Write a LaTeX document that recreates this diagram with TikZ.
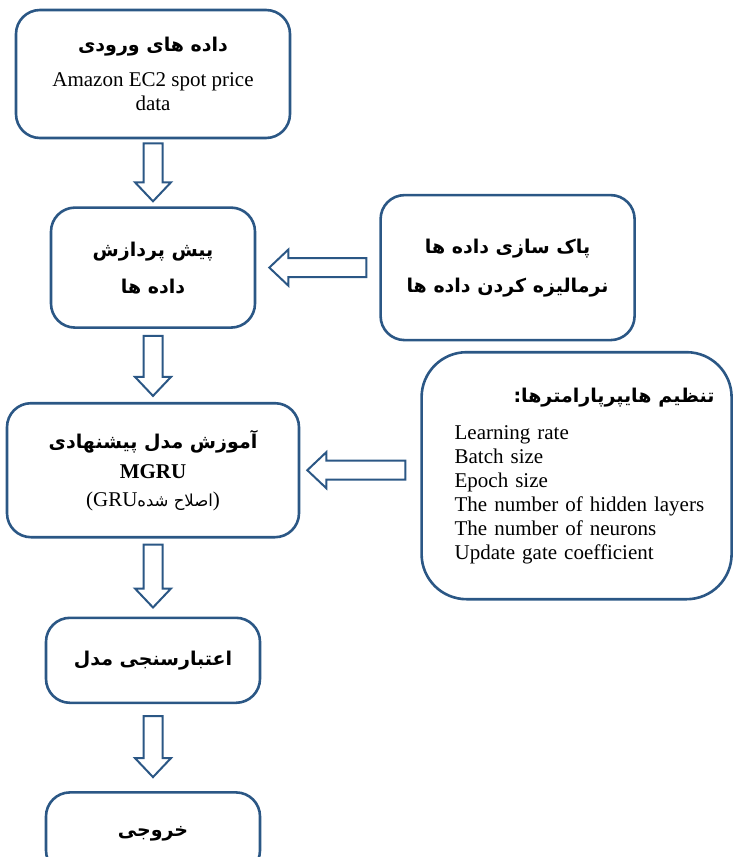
\documentclass[tikz,border=0pt]{standalone}
\usepackage{fontspec}
\setmainfont{Liberation Serif}
\newfontfamily\persfont[Script=Arabic]{DejaVu Sans}
\TeXXeTstate=1
\usetikzlibrary{positioning, calc}
\definecolor{boxblue}{RGB}{43,87,133}
\newcommand{\fabold}[1]{{\persfont\bfseries\fontsize{19}{24}\selectfont\beginR #1\endR}}
\newcommand{\faplain}[1]{{\persfont\fontsize{16.5}{24}\selectfont\beginR #1\endR}}

\begin{document}
\begin{tikzpicture}[
    x=1pt, y=-1pt,
    stage/.style={rectangle, rounded corners=24pt, draw=boxblue, line width=2.6pt, align=center, inner sep=0pt, font=\fontsize{21}{24}\selectfont},
    hollow/.style={draw=boxblue, line width=2pt, fill=white, line join=miter, to path={
        ($(\tikztostart)!9.5pt!-90:(\tikztotarget)$) --
        ($(\tikztotarget)!19pt!(\tikztostart)!9.5pt!90:(\tikztostart)$) --
        ($(\tikztotarget)!19pt!(\tikztostart)!18pt!90:(\tikztostart)$) --
        (\tikztotarget) --
        ($(\tikztotarget)!19pt!(\tikztostart)!18pt!-90:(\tikztostart)$) --
        ($(\tikztotarget)!19pt!(\tikztostart)!9.5pt!-90:(\tikztostart)$) --
        ($(\tikztostart)!9.5pt!90:(\tikztotarget)$) -- cycle}}
]
\useasboundingbox (0,0) rectangle (734,857);

% main column
\node[stage, minimum width=274pt, minimum height=128pt] (inp) at (153,74)
    {\fabold{داده های ورودی}\\[11pt] Amazon EC2 spot price\\ data};
\node[stage, minimum width=204pt, minimum height=120pt, below=67pt of inp] (pre)
    {\fabold{پیش پردازش}\\[13pt] \fabold{داده ها}};
\node[stage, minimum width=292pt, minimum height=134pt, below=73pt of pre] (train)
    {\fabold{آموزش مدل پیشنهادی}\\[6pt] \textbf{MGRU}\\[4pt] (GRU\faplain{اصلاح شده})};
\node[stage, minimum width=214pt, minimum height=85pt, below=78pt of train] (valid)
    {\fabold{اعتبارسنجی مدل}};
\node[stage, minimum width=214pt, minimum height=82pt, below=87pt of valid] (out)
    {\fabold{خروجی}};

% side boxes
\node[stage, minimum width=254pt, minimum height=145pt, right=123pt of pre] (clean)
    {\fabold{پاک سازی داده ها}\\[15pt] \fabold{نرمالیزه کردن داده ها}};
\node[stage, rounded corners=45pt, minimum width=310pt, minimum height=247pt, text width=256pt, align=left,
      right=120pt of train, yshift=-5.5pt] (hyper)
    {\mbox{}\hfill\fabold{تنظیم هایپرپارامترها:}\kern-10pt\mbox{}\\[13pt]
     \hspace*{6pt}Learning rate\\ \hspace*{6pt}Batch size\\ \hspace*{6pt}Epoch size\\
     \hspace*{6pt}The number of hidden layers\\ \hspace*{6pt}The number of neurons\\
     \hspace*{6pt}Update gate coefficient};

% arrows
\draw[hollow] ([yshift=-4pt]inp.south) to ([yshift=5pt]pre.north);
\draw[hollow] ([yshift=-7pt]pre.south) to ([yshift=6pt]train.north);
\draw[hollow] ([yshift=-6pt]train.south) to ([yshift=9pt]valid.north);
\draw[hollow] ([yshift=-12pt]valid.south) to ([yshift=14pt]out.north);
\draw[hollow] ([xshift=-13pt]clean.west) to ([xshift=13pt]pre.east);
\draw[hollow] ([xshift=-15pt]hyper.west |- train.east) to ([xshift=7pt]train.east);
\end{tikzpicture}
\end{document}
